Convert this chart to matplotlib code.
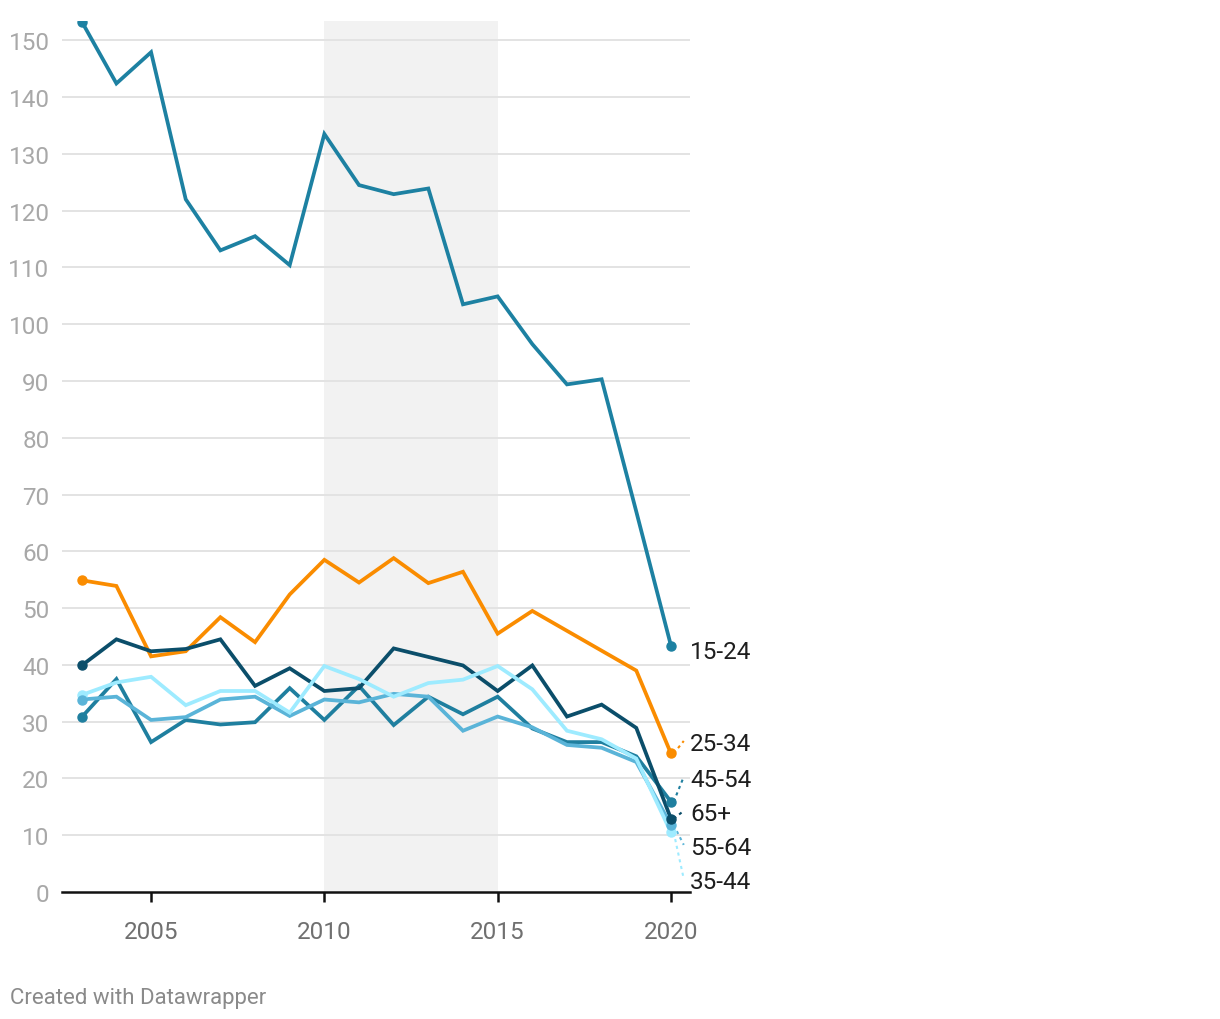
import matplotlib
matplotlib.use("Agg")
import matplotlib.pyplot as plt

years = list(range(2003, 2021))
age_groups = ["15-24", "25-34", "45-54", "65+", "55-64", "35-44"]

s_15_24 = [153.3, 142.4, 147.9, 122.0, 113.0, 115.5, 110.4, 133.5, 124.5, 122.9, 123.9, 103.5, 104.9, 96.5, 89.4, 90.3, 67.0, 43.4]
s_25_34 = [54.9, 53.9, 41.5, 42.4, 48.4, 44.0, 52.4, 58.5, 54.5, 58.8, 54.4, 56.4, 45.5, 49.5, 46.0, 42.5, 39.0, 24.4]
s_45_54 = [30.8, 37.5, 26.4, 30.3, 29.5, 29.9, 35.9, 30.3, 36.3, 29.4, 34.4, 31.3, 34.4, 28.8, 26.4, 26.4, 23.9, 15.9]
s_65p = [39.9, 44.5, 42.4, 42.8, 44.5, 36.3, 39.4, 35.4, 35.9, 42.9, 41.4, 39.9, 35.4, 39.9, 30.9, 33.0, 28.9, 12.9]
s_55_64 = [33.9, 34.4, 30.3, 30.8, 33.9, 34.4, 31.0, 33.9, 33.4, 34.9, 34.4, 28.4, 30.9, 29.0, 25.9, 25.4, 22.9, 11.8]
s_35_44 = [34.7, 36.9, 37.9, 32.9, 35.4, 35.4, 31.6, 39.8, 37.5, 34.4, 36.8, 37.4, 39.8, 35.7, 28.4, 26.9, 23.5, 10.5]

series = [s_15_24, s_25_34, s_45_54, s_65p, s_55_64, s_35_44]
colors = ["#1d81a2", "#fa8c00", "#1f7f9f", "#0b4e6a", "#5ab4d8", "#9eebff"]
label_y = [42.4, 26.2, 19.9, 13.9, 7.9, 1.9]

shade_start, shade_end = 2010, 2015
yticks = list(range(0, 151, 10))
xticks = [2005, 2010, 2015, 2020]

plt.rcParams["font.family"] = ["Roboto", "DejaVu Sans"]

fig = plt.figure(figsize=(12.2, 10.2), dpi=100)
ax = fig.add_axes([62/1220, 1 - 893/1020, (690-62)/1220, (893-22)/1020])
ax.set_xlim(2002.43, 2020.55)
ax.set_ylim(0, 153.4)

ax.axvspan(shade_start, shade_end, color="#f2f2f2", zorder=0, lw=0)
for yv in yticks[1:]:
    ax.axhline(yv, color="#e3e3e3", lw=1.4, zorder=0.5)

draw_order = [5, 4, 2, 3, 1, 0]
for i in draw_order:
    vals = series[i]
    c = colors[i]
    ax.plot(years, vals, color=c, lw=2.7, zorder=3 + i * 0.01, solid_joinstyle="miter")
    ax.plot([years[0], years[-1]], [vals[0], vals[-1]], "o", color=c, ms=6.5, zorder=4)
    if i != 0:
        ax.plot([years[-1] + 0.08, years[-1] + 0.37], [vals[-1], label_y[i] + 0.4],
                color=c, lw=1.5, ls=(0, (1.5, 1.8)), zorder=3, clip_on=False)
    ax.text(years[-1] + 0.55, label_y[i], age_groups[i], fontsize=17.5, color="#1e1e1e",
            va="center", ha="left", clip_on=False)

for sp in ["top", "right", "left"]:
    ax.spines[sp].set_visible(False)
ax.spines["bottom"].set_color("#111111")
ax.spines["bottom"].set_linewidth(1.8)
ax.spines["bottom"].set_zorder(5)

ax.set_yticks(yticks)
ax.set_yticklabels([str(v) for v in yticks])
ax.tick_params(axis="y", length=0, pad=9, labelsize=17.5, labelcolor="#a8a8a8")
ax.set_xticks(xticks)
ax.set_xticklabels([str(v) for v in xticks])
ax.tick_params(axis="x", length=7, width=1.8, color="#111111", pad=13, labelsize=17.5, labelcolor="#707070")

fig.text(10/1220, 1 - 999/1020, "Created with Datawrapper", fontsize=16, color="#8a8a8a", va="center", ha="left")

fig.savefig("out.png", dpi=100, facecolor="white")
